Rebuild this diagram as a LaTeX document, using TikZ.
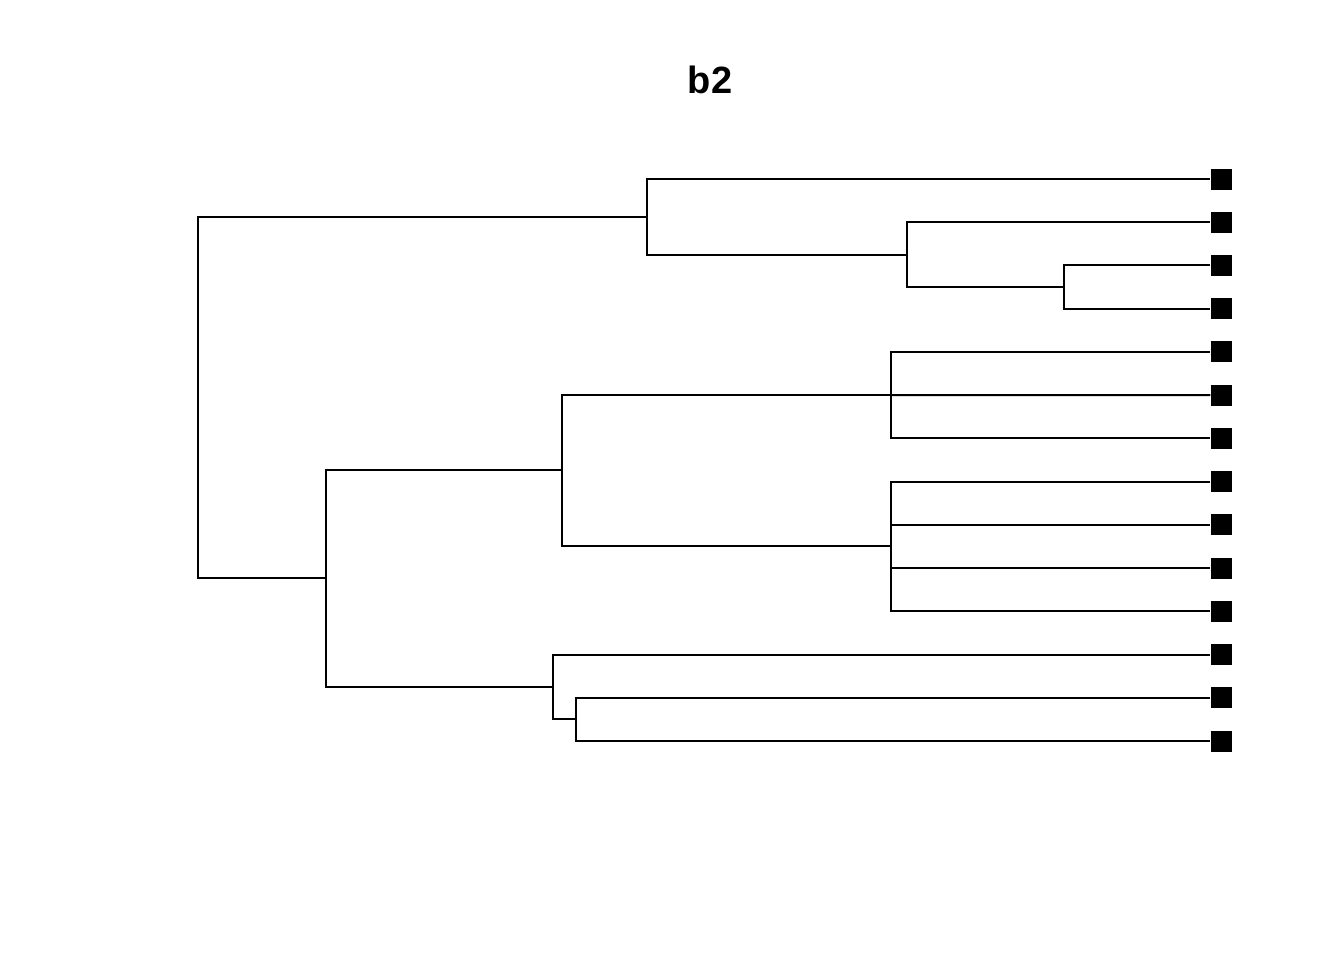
\documentclass[tikz,border=0pt]{standalone}
\usepackage{fontspec}
\setmainfont{Liberation Sans}
\usepackage{tikz}
\usetikzlibrary{positioning}

\begin{document}
\begin{tikzpicture}[x=0.75pt,y=-0.75pt,
    leaf/.style={fill=black, inner sep=0pt, minimum size=15.75pt},
    branch/.style={line width=1.5pt}]
        \useasboundingbox (0,0) rectangle (1344,960);
        \node (title) at (710,80) {\fontsize{28.5}{34}\selectfont\bfseries b2};

        %% leaves
        \foreach \i in {1,...,14}
          \node (l\i)[leaf] at (1221,{179+43.23*(\i-1)}) {};

        %% inner nodes
        \coordinate (root) at (198,397);
        \coordinate (a) at (647,217);
        \coordinate (b) at (907,255);
        \coordinate (c) at (1064,287);
        \coordinate (d) at (326,578);
        \coordinate (e) at (562,470);
        \coordinate (f) at (891,395.2);
        \coordinate (g) at (891,546);
        \coordinate (h) at (553,687);
        \coordinate (i) at (576,719);

        \draw[branch] (a) -| (root) |- (d);
        \draw[branch] (l1.west) -| (a) |- (b);
        \draw[branch] (l2.west) -| (b) |- (c);
        \draw[branch] (l3.west) -| (c) |- (l4.west);
        \draw[branch] (e) -| (d) |- (h);
        \draw[branch] (f) -| (e) |- (g);
        \draw[branch] (l5.west) -| (f) |- (l7.west);
        \draw[branch] (f) -- (l6.west);
        \draw[branch] (l8.west) -| (g) |- (l11.west);
        \draw[branch] (g |- l9) -- (l9.west);
        \draw[branch] (g |- l10) -- (l10.west);
        \draw[branch] (l12.west) -| (h) |- (i);
        \draw[branch] (l13.west) -| (i) |- (l14.west);
\end{tikzpicture}
\end{document}
